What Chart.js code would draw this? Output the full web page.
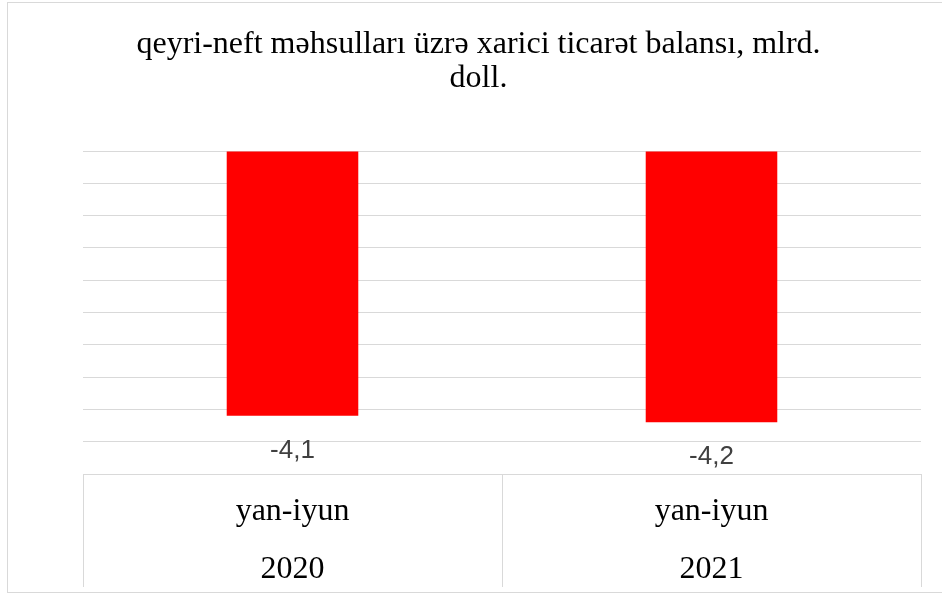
<!DOCTYPE html>
<html>
<head>
<meta charset="utf-8">
<script src="https://cdn.jsdelivr.net/npm/chart.js@4/dist/chart.umd.min.js"></script>
<style>
  html, body { margin: 0; padding: 0; background: #ffffff; }
  #wrap { width: 942px; height: 595px; position: relative; }
</style>
</head>
<body>
<div id="wrap"><canvas id="c" width="942" height="595"></canvas></div>
<script>
// Non-oil trade balance, bn USD, January–June
const periods = ['yan-iyun', 'yan-iyun'];
const years = ['2020', '2021'];
const balance = [-4.1, -4.2];
const titleLines = ['qeyri-neft məhsulları üzrə xarici ticarət balansı, mlrd.', 'doll.'];

const GRID = '#d9d9d9';

// Value labels under each bar end, written with a decimal comma
const valueLabels = {
  id: 'valueLabels',
  afterDatasetsDraw(chart) {
    const ctx = chart.ctx;
    const meta = chart.getDatasetMeta(0);
    ctx.save();
    ctx.font = '26px "Liberation Sans", Arial, sans-serif';
    ctx.fillStyle = '#404040';
    ctx.textAlign = 'center';
    ctx.textBaseline = 'middle';
    meta.data.forEach((bar, i) => {
      const v = chart.data.datasets[0].data[i];
      ctx.fillText(v.toFixed(1).replace('.', ','), bar.x, bar.y + 35);
    });
    ctx.restore();
  }
};

// Light frame around the whole chart
const frame = {
  id: 'frame',
  beforeDraw(chart) {
    const ctx = chart.ctx;
    ctx.save();
    ctx.strokeStyle = GRID;
    ctx.lineWidth = 1;
    ctx.strokeRect(7.5, 2.5, chart.width + 10, chart.height - 5);
    ctx.restore();
  }
};

new Chart(document.getElementById('c'), {
  type: 'bar',
  data: {
    labels: periods.map((p, i) => [p, years[i]]),
    datasets: [{
      data: balance,
      backgroundColor: '#ff0000',
      borderWidth: 0,
      categoryPercentage: 1,
      barPercentage: 0.314
    }]
  },
  options: {
    responsive: false,
    devicePixelRatio: 1,
    animation: false,
    events: [],
    layout: { padding: { left: 36, right: 21, top: 0, bottom: 0 } },
    plugins: {
      legend: { display: false },
      tooltip: { enabled: false },
      title: {
        display: true,
        text: titleLines,
        color: '#000000',
        font: { family: '"Liberation Serif", "Times New Roman", serif', size: 32, weight: 'normal', lineHeight: 34.7 / 32 },
        padding: { top: 27, bottom: 54.6 }
      }
    },
    scales: {
      x: {
        grid: {
          display: true,
          offset: true,
          drawOnChartArea: false,
          drawTicks: true,
          tickLength: 113,
          color: GRID,
          lineWidth: 1
        },
        border: { display: false },
        ticks: {
          color: '#000000',
          padding: -105,
          maxRotation: 0,
          autoSkip: false,
          font: { family: '"Liberation Serif", "Times New Roman", serif', size: 32, lineHeight: 58.3 / 32 }
        },
        afterFit(scale) { scale.height = 121; }
      },
      y: {
        min: -5,
        max: 0,
        ticks: { display: false, stepSize: 0.5 },
        grid: { color: GRID, lineWidth: 1, drawTicks: false },
        border: { display: false },
        afterFit(scale) { scale.width = 47; }
      }
    }
  },
  plugins: [frame, valueLabels]
});
</script>
</body>
</html>
